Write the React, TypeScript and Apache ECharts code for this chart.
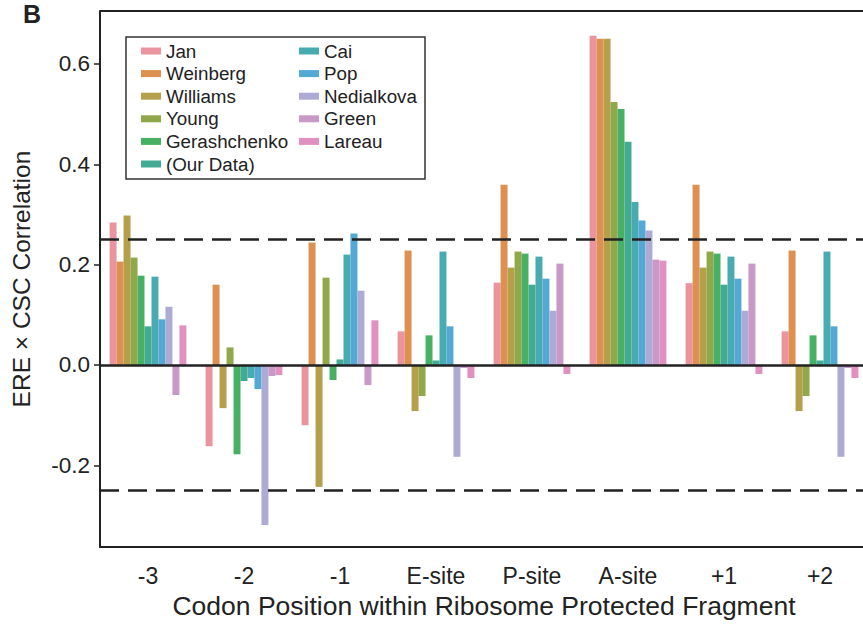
import React, { useEffect, useRef } from "react";
import * as echarts from "echarts";

const categories = ["-3", "-2", "-1", "E-site", "P-site", "A-site", "+1", "+2"];
const seriesNames = [
  "Jan", "Weinberg", "Williams", "Young", "Gerashchenko", "(Our Data)",
  "Cai", "Pop", "Nedialkova", "Green", "Lareau",
];
const colors = [
  "#e9949f", "#dd9050", "#b49f4b", "#90a74a", "#47b063", "#43ab94",
  "#48abb0", "#53a8d4", "#adaad5", "#c898c6", "#e190bf",
];
const jan = [0.284, -0.162, -0.12, 0.067, 0.164, 0.656, 0.163, 0.067];
const weinberg = [0.206, 0.16, 0.244, 0.228, 0.359, 0.65, 0.359, 0.228];
const williams = [0.298, -0.086, -0.243, -0.092, 0.194, 0.65, 0.194, -0.092];
const young = [0.214, 0.035, 0.174, -0.062, 0.226, 0.524, 0.226, -0.062];
const gerashchenko = [0.178, -0.178, -0.03, 0.059, 0.222, 0.51, 0.222, 0.059];
const ourData = [0.077, -0.032, 0.011, 0.009, 0.16, 0.445, 0.16, 0.009];
const cai = [0.176, -0.026, 0.22, 0.226, 0.216, 0.325, 0.216, 0.226];
const pop = [0.091, -0.048, 0.262, 0.077, 0.172, 0.288, 0.172, 0.077];
const nedialkova = [0.116, -0.319, 0.148, -0.183, 0.108, 0.268, 0.108, -0.183];
const green = [-0.06, -0.022, -0.04, -0.006, 0.202, 0.21, 0.202, -0.006];
const lareau = [0.079, -0.02, 0.089, -0.026, -0.018, 0.208, -0.018, -0.026];
const seriesValues = [jan, weinberg, williams, young, gerashchenko, ourData, cai, pop, nedialkova, green, lareau];
const yTicks = [-0.2, 0, 0.2, 0.4, 0.6];
const threshold = 0.252;

const FONT = "'Liberation Sans', Arial, sans-serif";
const INK = "#222222";

export default function App() {
  const ref = useRef<HTMLDivElement>(null);
  useEffect(() => {
    if (!ref.current) return;
    const chart = echarts.init(ref.current, undefined, { renderer: "svg" });
    const series: any[] = seriesNames.map((name, i) => ({
      name,
      type: "bar",
      data: seriesValues[i],
      barGap: "0%",
      barCategoryGap: "20%",
      itemStyle: { color: colors[i] },
      z: 2,
    }));
    series[0].markLine = {
      silent: true,
      symbol: "none",
      label: { show: false },
      z: 5,
      data: [
        { yAxis: 0, lineStyle: { color: INK, width: 2.5, type: "solid" } },
        { yAxis: threshold, lineStyle: { color: INK, width: 2.5, type: [19, 9] } },
        { yAxis: -threshold, lineStyle: { color: INK, width: 2.5, type: [19, 9] } },
      ],
    };
    const legendCommon = {
      orient: "vertical",
      icon: "rect",
      itemWidth: 20,
      itemHeight: 7,
      itemGap: 3.6,
      textStyle: { fontFamily: FONT, fontSize: 18.8, color: INK, lineHeight: 19 },
      padding: 0,
      z: 6,
    };
    chart.setOption({
      animation: false,
      textStyle: { fontFamily: FONT },
      color: colors,
      grid: { left: 100, top: 11, width: 768, bottom: 75 },
      legend: [
        { ...legendCommon, left: 141, top: 41.5, data: seriesNames.slice(0, 6) },
        { ...legendCommon, left: 299, top: 41.5, data: seriesNames.slice(6) },
      ],
      graphic: [
        {
          type: "line",
          shape: { x1: 100, y1: 11, x2: 870, y2: 11 },
          style: { stroke: INK, lineWidth: 2 },
          z: 5,
        },
        {
          type: "rect",
          shape: { x: 126, y: 37, width: 299, height: 142 },
          style: { fill: "#ffffff", stroke: "#333333", lineWidth: 1.5 },
          z: 5,
        },
        {
          type: "text",
          left: 23,
          top: 1,
          style: { text: "B", fontFamily: FONT, fontSize: 25, fontWeight: "bold", fill: INK },
          z: 6,
        },
      ],
      xAxis: {
        type: "category",
        data: categories,
        boundaryGap: true,
        axisLine: { onZero: false, lineStyle: { color: INK, width: 2 } },
        axisTick: { alignWithLabel: true, length: 7, lineStyle: { color: INK, width: 1.5 } },
        axisLabel: { fontSize: 23, color: INK, margin: 17, fontFamily: FONT },
        name: "Codon Position within Ribosome Protected Fragment",
        nameLocation: "middle",
        nameGap: 43,
        nameTextStyle: { fontSize: 26.5, color: INK, fontFamily: FONT },
      },
      yAxis: {
        type: "value",
        min: -0.363,
        max: 0.7055,
        axisLine: { show: true, lineStyle: { color: INK, width: 2 } },
        axisTick: { show: true, length: 6, customValues: yTicks, lineStyle: { color: INK, width: 1.5 } },
        axisLabel: {
          fontSize: 22.5,
          color: INK,
          margin: 10,
          fontFamily: FONT,
          customValues: yTicks,
          formatter: (v: number) => v.toFixed(1),
        },
        splitLine: { show: false },
        name: "ERE × CSC Correlation",
        nameLocation: "middle",
        nameRotate: 90,
        nameGap: 66,
        nameTextStyle: { fontSize: 24.5, color: INK, fontFamily: FONT },
      },
      series,
    });
    return () => chart.dispose();
  }, []);
  return (
    <div style={{ position: "absolute", left: 0, top: 0, width: 863, height: 624, overflow: "hidden", background: "#fff" }}>
      <div ref={ref} style={{ width: 872, height: 624 }} />
    </div>
  );
}
